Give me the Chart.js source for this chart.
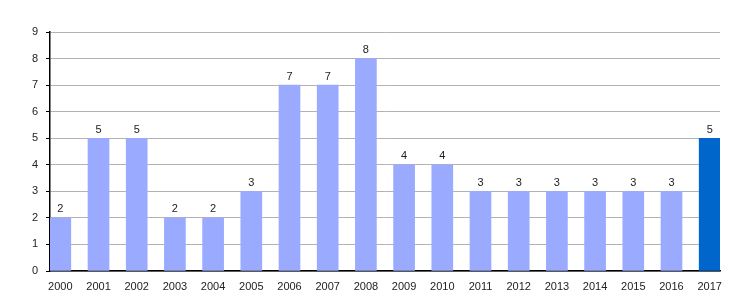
<!DOCTYPE html>
<html>
<head>
<meta charset="utf-8">
<script src="https://cdn.jsdelivr.net/npm/chart.js@4.4.1/dist/chart.umd.min.js"></script>
<style>
  html, body { margin: 0; padding: 0; background: #fff; }
  #wrap { width: 750px; height: 300px; position: relative; }
</style>
</head>
<body>
<div id="wrap"><canvas id="chart"></canvas></div>
<script>
  const years = ['2000', '2001', '2002', '2003', '2004', '2005', '2006', '2007', '2008',
    '2009', '2010', '2011', '2012', '2013', '2014', '2015', '2016', '2017'];
  const counts = [2, 5, 5, 2, 2, 3, 7, 7, 8, 4, 4, 3, 3, 3, 3, 3, 3, 5];
  const yTicks = [0, 1, 2, 3, 4, 5, 6, 7, 8, 9];

  const LIGHT = '#99aaff';
  const DARK = '#0066cc';
  const FONT = { family: '"Liberation Sans", Arial, sans-serif', size: 11 };

  // value labels over each bar
  const valueLabels = {
    id: 'valueLabels',
    afterDatasetsDraw(chart) {
      const ctx = chart.ctx;
      const meta = chart.getDatasetMeta(0);
      ctx.save();
      ctx.font = FONT.size + 'px ' + FONT.family;
      ctx.fillStyle = '#222';
      ctx.textAlign = 'center';
      ctx.textBaseline = 'bottom';
      meta.data.forEach((bar, i) => {
        ctx.fillText(String(counts[i]), bar.x, bar.y - 3);
      });
      ctx.restore();
    }
  };

  new Chart(document.getElementById('chart'), {
    type: 'bar',
    data: {
      datasets: [{
        data: counts.map((v, i) => ({ x: i, y: v })),
        backgroundColor: counts.map((v, i) => i === counts.length - 1 ? DARK : LIGHT),
        borderWidth: 0,
        barThickness: 21
      }]
    },
    options: {
      responsive: true,
      maintainAspectRatio: false,
      animation: false,
      layout: { padding: { top: 32, right: 30, left: 0, bottom: 0 } },
      plugins: {
        legend: { display: false },
        tooltip: { enabled: false }
      },
      scales: {
        x: {
          type: 'linear',
          offset: false,
          min: -0.27,
          max: 17.27,
          grid: { display: false, offset: false },
          border: { display: true, color: '#000', width: 1.5 },
          ticks: {
            stepSize: 1,
            includeBounds: false,
            autoSkip: false,
            maxRotation: 0,
            padding: 1,
            color: '#222',
            font: FONT,
            callback: (v) => years[v] || ''
          },
          afterFit: (s) => { s.height = 29; }
        },
        y: {
          min: yTicks[0],
          max: yTicks[yTicks.length - 1],
          afterBuildTicks: (s) => { s.ticks = yTicks.map((v) => ({ value: v })); },
          grid: { color: '#b3b3b3', tickColor: '#000', tickLength: 4, lineWidth: 1 },
          border: { display: true, color: '#000', width: 1.5 },
          ticks: { padding: 8, color: '#222', font: FONT },
          afterFit: (s) => { s.width = 50; }
        }
      }
    },
    plugins: [valueLabels]
  });
</script>
</body>
</html>
